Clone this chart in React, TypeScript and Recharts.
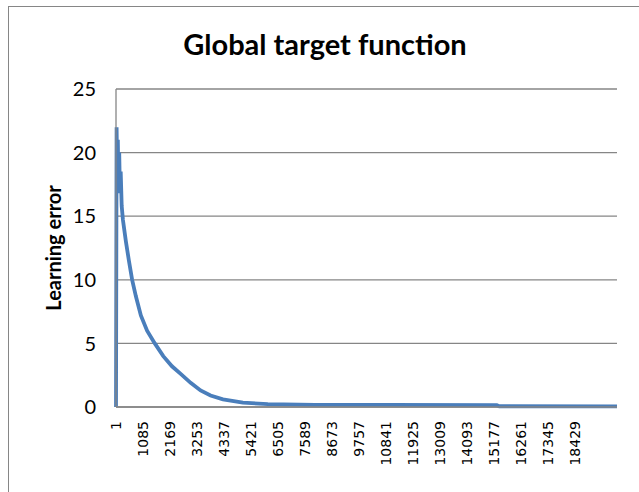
import React from 'react';
import { LineChart, Line, XAxis, YAxis, CartesianGrid } from 'recharts';

const iterations = [
  1, 25, 50, 75, 100, 130, 160, 190, 230, 280, 400, 520, 650, 800, 1000, 1250, 1560, 1900, 2250,
  2600, 3000, 3400, 3800, 4300, 5100, 6100, 8000, 11000, 15300, 15400, 20130,
];
const learningError = [
  0, 22, 18, 21, 17, 20, 16.8, 18.5, 15.8, 14.7, 13.0, 11.5, 10.0, 8.7, 7.2, 6.0, 5.0, 4.0, 3.2,
  2.6, 1.9, 1.3, 0.9, 0.6, 0.35, 0.22, 0.17, 0.16, 0.15, 0.06, 0.05,
];

const xTicks = [
  1, 1085, 2169, 3253, 4337, 5421, 6505, 7589, 8673, 9757, 10841, 11925, 13009, 14093, 15177,
  16261, 17345, 18429,
];
const yTicks = [0, 5, 10, 15, 20, 25];

const data = iterations.map((x, i) => ({ x, y: learningError[i] }));

const GRID = '#868686';
const LINE = '#4a7ebb';

const XTick = (props: any) => {
  const { x, y, payload } = props;
  return (
    <g transform={`translate(${x},${y})`}>
      <text
        x={0}
        y={0}
        dy={5}
        textAnchor="end"
        transform="rotate(-90)"
        fontFamily="DejaVu Sans"
        fontSize={14}
        fill="#000"
      >
        {payload.value}
      </text>
    </g>
  );
};

export default function App() {
  return (
    <div style={{ position: 'absolute', left: 0, top: 0, width: 639, height: 492, overflow: 'hidden', background: '#fff' }}>
      <div
        style={{
          position: 'absolute',
          left: 8,
          top: 6,
          width: 700,
          height: 600,
          border: `1px solid ${GRID}`,
        }}
      />
      <div
        style={{
          position: 'absolute',
          left: 0,
          top: 27,
          width: 650,
          textAlign: 'center',
          fontFamily: 'Lato',
          fontWeight: 700,
          fontSize: 29,
          lineHeight: '34px',
        }}
      >
        Global target function
      </div>
      <div style={{ position: 'absolute', left: 0, top: 0 }}>
        <LineChart width={639} height={492} data={data} margin={{ top: 89, right: 22, bottom: 0, left: 0 }}>
          <CartesianGrid vertical={false} stroke={GRID} strokeWidth={1.3} />
          <XAxis
            dataKey="x"
            type="number"
            domain={[1, 20130]}
            ticks={xTicks}
            interval={0}
            height={85}
            axisLine={{ stroke: GRID, strokeWidth: 1.3 }}
            tickLine={false}
            tickSize={0}
            tickMargin={14}
            tick={<XTick />}
          />
          <YAxis
            type="number"
            domain={[0, 25]}
            ticks={yTicks}
            width={116}
            axisLine={{ stroke: GRID, strokeWidth: 1.3 }}
            tickLine={false}
            tickSize={0}
            tickMargin={20}
            tick={{ fontFamily: 'Lato', fontSize: 20, fill: '#000' }}
            label={{
              value: 'Learning error',
              angle: -90,
              position: 'center',
              dx: -4,
              style: { fontFamily: 'Lato', fontWeight: 700, fontSize: 20, fill: '#000' },
            }}
          />
          <Line
            type="linear"
            dataKey="y"
            stroke={LINE}
            strokeWidth={3.8}
            dot={false}
            isAnimationActive={false}
          />
        </LineChart>
      </div>
    </div>
  );
}
